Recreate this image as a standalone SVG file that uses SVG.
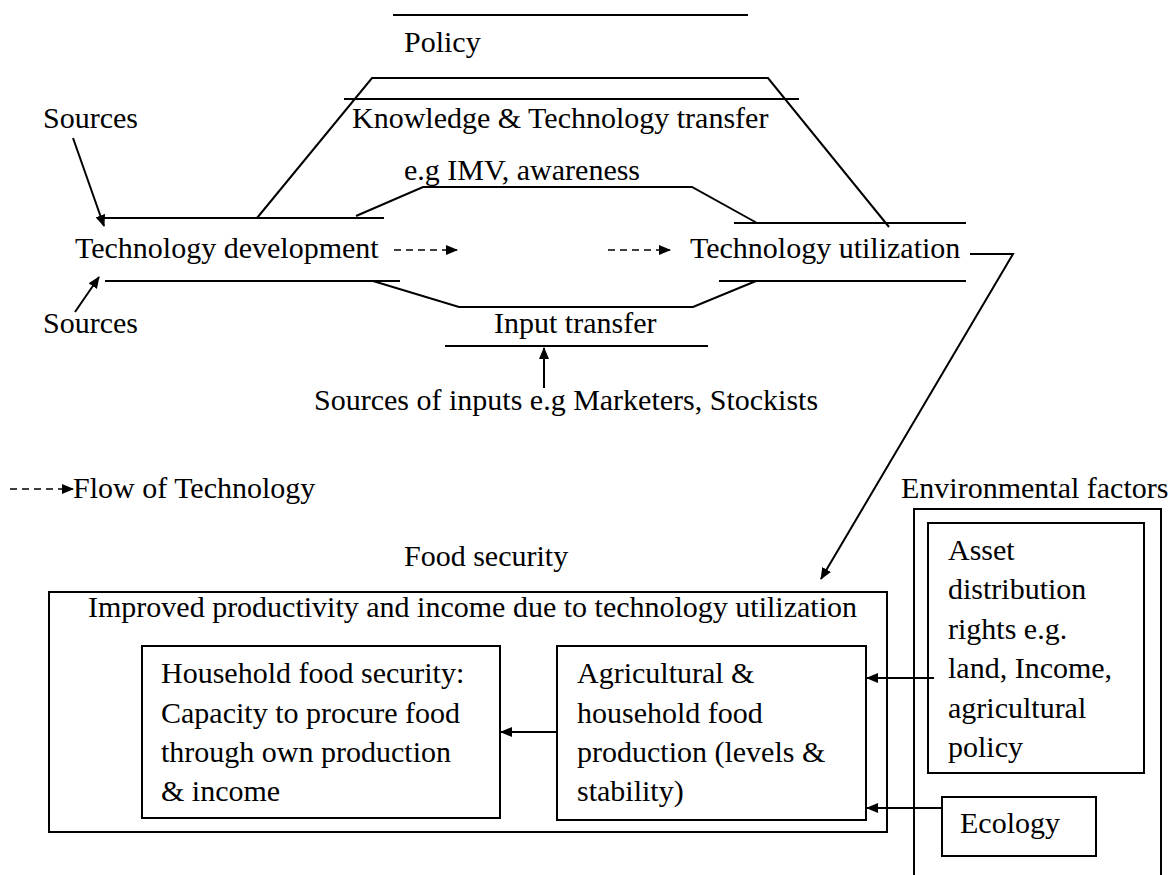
<svg xmlns="http://www.w3.org/2000/svg" width="1173" height="875" viewBox="0 0 1173 875">
  <style>
    text { font-family: "Liberation Serif", "Times New Roman", serif; font-size: 30px; fill: #000; }
    .ln { stroke: #000; stroke-width: 2; fill: none; }
    .box { stroke: #000; stroke-width: 2; fill: #fff; }
    .arr { stroke: #000; stroke-width: 2; fill: none; marker-end: url(#head); }
    .dash { stroke: #000; stroke-width: 1.6; fill: none; stroke-dasharray: 7 5; marker-end: url(#head); }
  </style>
  <defs>
    <marker id="head" viewBox="0 0 12 10" refX="11" refY="5" markerWidth="12" markerHeight="10" markerUnits="userSpaceOnUse" orient="auto">
      <path d="M0,0 L12,5 L0,10 Z" fill="#000"/>
    </marker>
  </defs>
  <rect width="1173" height="875" fill="#fff"/>

  <!-- channel outlines -->
  <g id="policy">
    <line class="ln" x1="393" y1="15" x2="748" y2="15"/>
    <text x="404" y="52">Policy</text>
    <polyline class="ln" points="257,218 372,78 768,78 889,227"/>
  </g>

  <g id="knowledge-transfer">
    <line class="ln" x1="344" y1="99" x2="799" y2="99"/>
    <text x="352" y="128">Knowledge &amp; Technology transfer</text>
    <text x="404" y="180">e.g IMV, awareness</text>
    <polyline class="ln" points="356,216 423,187 692,187 757,223"/>
  </g>

  <g id="technology-development">
    <line class="ln" x1="103" y1="218" x2="384" y2="218"/>
    <text x="75" y="258">Technology development</text>
    <polyline class="ln" points="105,281 400,281"/>
  </g>

  <g id="technology-utilization">
    <line class="ln" x1="734" y1="223" x2="966" y2="223"/>
    <text x="690" y="258">Technology utilization</text>
    <line class="ln" x1="719" y1="281" x2="966" y2="281"/>
  </g>

  <g id="input-transfer">
    <polyline class="ln" points="373,281 459,307 693,307 756,281"/>
    <text x="494" y="333">Input transfer</text>
    <line class="ln" x1="445" y1="346" x2="708" y2="346"/>
  </g>

  <g id="sources-top"><text x="43" y="128">Sources</text></g>
  <g id="sources-bottom"><text x="43" y="333">Sources</text></g>
  <g id="input-sources"><text x="314" y="410">Sources of inputs e.g Marketers, Stockists</text></g>

  <g id="legend">
    <line class="dash" x1="10" y1="489" x2="73" y2="489"/>
    <text x="73" y="498">Flow of Technology</text>
  </g>

  <g id="food-security">
    <text x="404" y="566">Food security</text>
    <rect class="box" x="49" y="592" width="838" height="240"/>
    <text x="88" y="617">Improved productivity and income due to technology utilization</text>
  </g>

  <g id="household">
    <rect class="box" x="142" y="646" width="358" height="172"/>
    <text x="161" y="683">Household food security:</text>
    <text x="161" y="723">Capacity to procure food</text>
    <text x="161" y="762">through own production</text>
    <text x="161" y="801">&amp; income</text>
  </g>

  <g id="agricultural">
    <rect class="box" x="557" y="646" width="309" height="174"/>
    <text x="577" y="683">Agricultural &amp;</text>
    <text x="577" y="723">household food</text>
    <text x="577" y="762">production (levels &amp;</text>
    <text x="577" y="801">stability)</text>
  </g>

  <g id="environmental-factors">
    <text x="901" y="498">Environmental factors</text>
    <polyline class="ln" points="914,880 914,509 1161,509 1161,880"/>
  </g>

  <g id="asset-distribution">
    <rect class="box" x="928" y="523" width="216" height="250"/>
    <text x="948" y="560">Asset</text>
    <text x="948" y="599">distribution</text>
    <text x="948" y="639">rights e.g.</text>
    <text x="948" y="678">land, Income,</text>
    <text x="948" y="718">agricultural</text>
    <text x="948" y="757">policy</text>
  </g>

  <g id="ecology">
    <rect class="box" x="942" y="797" width="154" height="59"/>
    <text x="960" y="833">Ecology</text>
  </g>

  <!-- connectors -->
  <g id="connectors">
    <line class="arr" x1="73" y1="138" x2="104" y2="226"/>
    <line class="arr" x1="75" y1="312" x2="99" y2="277"/>
    <line class="dash" x1="394" y1="250" x2="457" y2="250"/>
    <line class="dash" x1="608" y1="250" x2="670" y2="250"/>
    <line class="arr" x1="544" y1="388" x2="544" y2="348"/>
    <polyline class="arr" points="970,254 1013,254 821,579"/>
    <line class="arr" x1="557" y1="732" x2="501" y2="732"/>
    <line class="arr" x1="934" y1="678" x2="867" y2="678"/>
    <line class="arr" x1="942" y1="808" x2="867" y2="808"/>
  </g>
</svg>
